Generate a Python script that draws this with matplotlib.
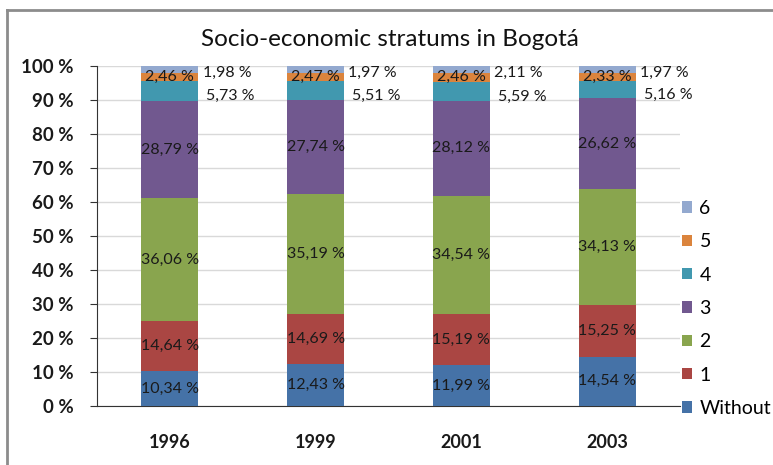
import matplotlib
matplotlib.use("Agg")
import matplotlib.pyplot as plt
from matplotlib.lines import Line2D
from matplotlib.patches import Patch
import numpy as np

years = ["1996", "1999", "2001", "2003"]
strata = ["Without", "1", "2", "3", "4", "5", "6"]
without = [10.34, 12.43, 11.99, 14.54]
s1 = [14.64, 14.69, 15.19, 15.25]
s2 = [36.06, 35.19, 34.54, 34.13]
s3 = [28.79, 27.74, 28.12, 26.62]
s4 = [5.73, 5.51, 5.59, 5.16]
s5 = [2.46, 2.47, 2.46, 2.33]
s6 = [1.98, 1.97, 2.11, 1.97]
series = [without, s1, s2, s3, s4, s5, s6]
colors = ["#4572A7", "#AA4643", "#89A54E", "#71588F", "#4198AF", "#DB843D", "#93A9CF"]
yticks = [0, 10, 20, 30, 40, 50, 60, 70, 80, 90, 100]

base_font = ["Lato", "DejaVu Sans"]
label_font = ["Lato", "DejaVu Sans"]


def fmt(v):
    return f"{v:.2f}".replace(".", ",") + " %"


fig = plt.figure(figsize=(7.73, 4.65), dpi=100)
ax = fig.add_axes([97 / 773, 1 - 406 / 465, 583 / 773, 340 / 465])

x = np.arange(len(years))
width = 0.39
bottom = np.zeros(len(years))
for name, vals, col in zip(strata, series, colors):
    vals = np.array(vals)
    ax.bar(x, vals, width, bottom=bottom, color=col, label=name, zorder=3)
    for xi, v, btm in zip(x, vals, bottom):
        mid = btm + v / 2
        if name == "6":
            ax.text(xi + width / 2 + 0.03, mid - 0.9, fmt(v), ha="left", va="center",
                    fontsize=11.5, family=label_font, color="#1A1A1A", zorder=5)
        elif name == "4":
            ax.text(xi + width / 2 + 0.055, mid - 1.6, fmt(v), ha="left", va="center",
                    fontsize=11.5, family=label_font, color="#1A1A1A", zorder=5)
        else:
            ax.text(xi, mid, fmt(v), ha="center", va="center",
                    fontsize=11.5, family=label_font, color="#1A1A1A", zorder=5)
    bottom = bottom + vals

ax.set_xlim(-0.5, len(years) - 0.5)
ax.set_ylim(0, 100)
ax.set_yticks(yticks)
ax.set_yticklabels([f"{t} %" for t in yticks], family=base_font, fontsize=13.5,
                   fontweight="bold", color="#1A1A1A")
ax.set_xticks(x)
ax.set_xticklabels(years, family=base_font, fontsize=13, fontweight="bold",
                   color="#1A1A1A")
ax.tick_params(axis="x", length=0, pad=20)
ax.tick_params(axis="y", length=5, direction="out", color="#333333", pad=12)
ax.grid(axis="y", color="#D9D9D9", linewidth=1, zorder=0)
for side in ["top", "right"]:
    ax.spines[side].set_visible(False)
ax.spines["left"].set_color("#333333")
ax.spines["bottom"].set_color("#333333")

# legend, top entry first
handles = [Patch(facecolor=c, edgecolor="none") for c in colors][::-1]
labels = strata[::-1]
ax.legend(handles, labels, loc="center left", bbox_to_anchor=(0.99, 0.287),
          frameon=False, prop={"family": base_font, "size": 14},
          handlelength=0.5, handleheight=0.5, handletextpad=0.4,
          labelspacing=0.84, borderaxespad=0.0)

fig.text(0.505, 1 - 40 / 465, "Socio-economic stratums in Bogotá", ha="center",
         va="center", fontsize=17.5, family=base_font, color="#111111")

# chart frame
fig.add_artist(Line2D([7 / 773, 7 / 773], [0, 1 - 10 / 465], transform=fig.transFigure,
                      color="#8C8C8C", linewidth=2))
fig.add_artist(Line2D([7 / 773, 1], [1 - 10 / 465, 1 - 10 / 465], transform=fig.transFigure,
                      color="#8C8C8C", linewidth=2))

fig.savefig("out.png", dpi=100, facecolor="white")
